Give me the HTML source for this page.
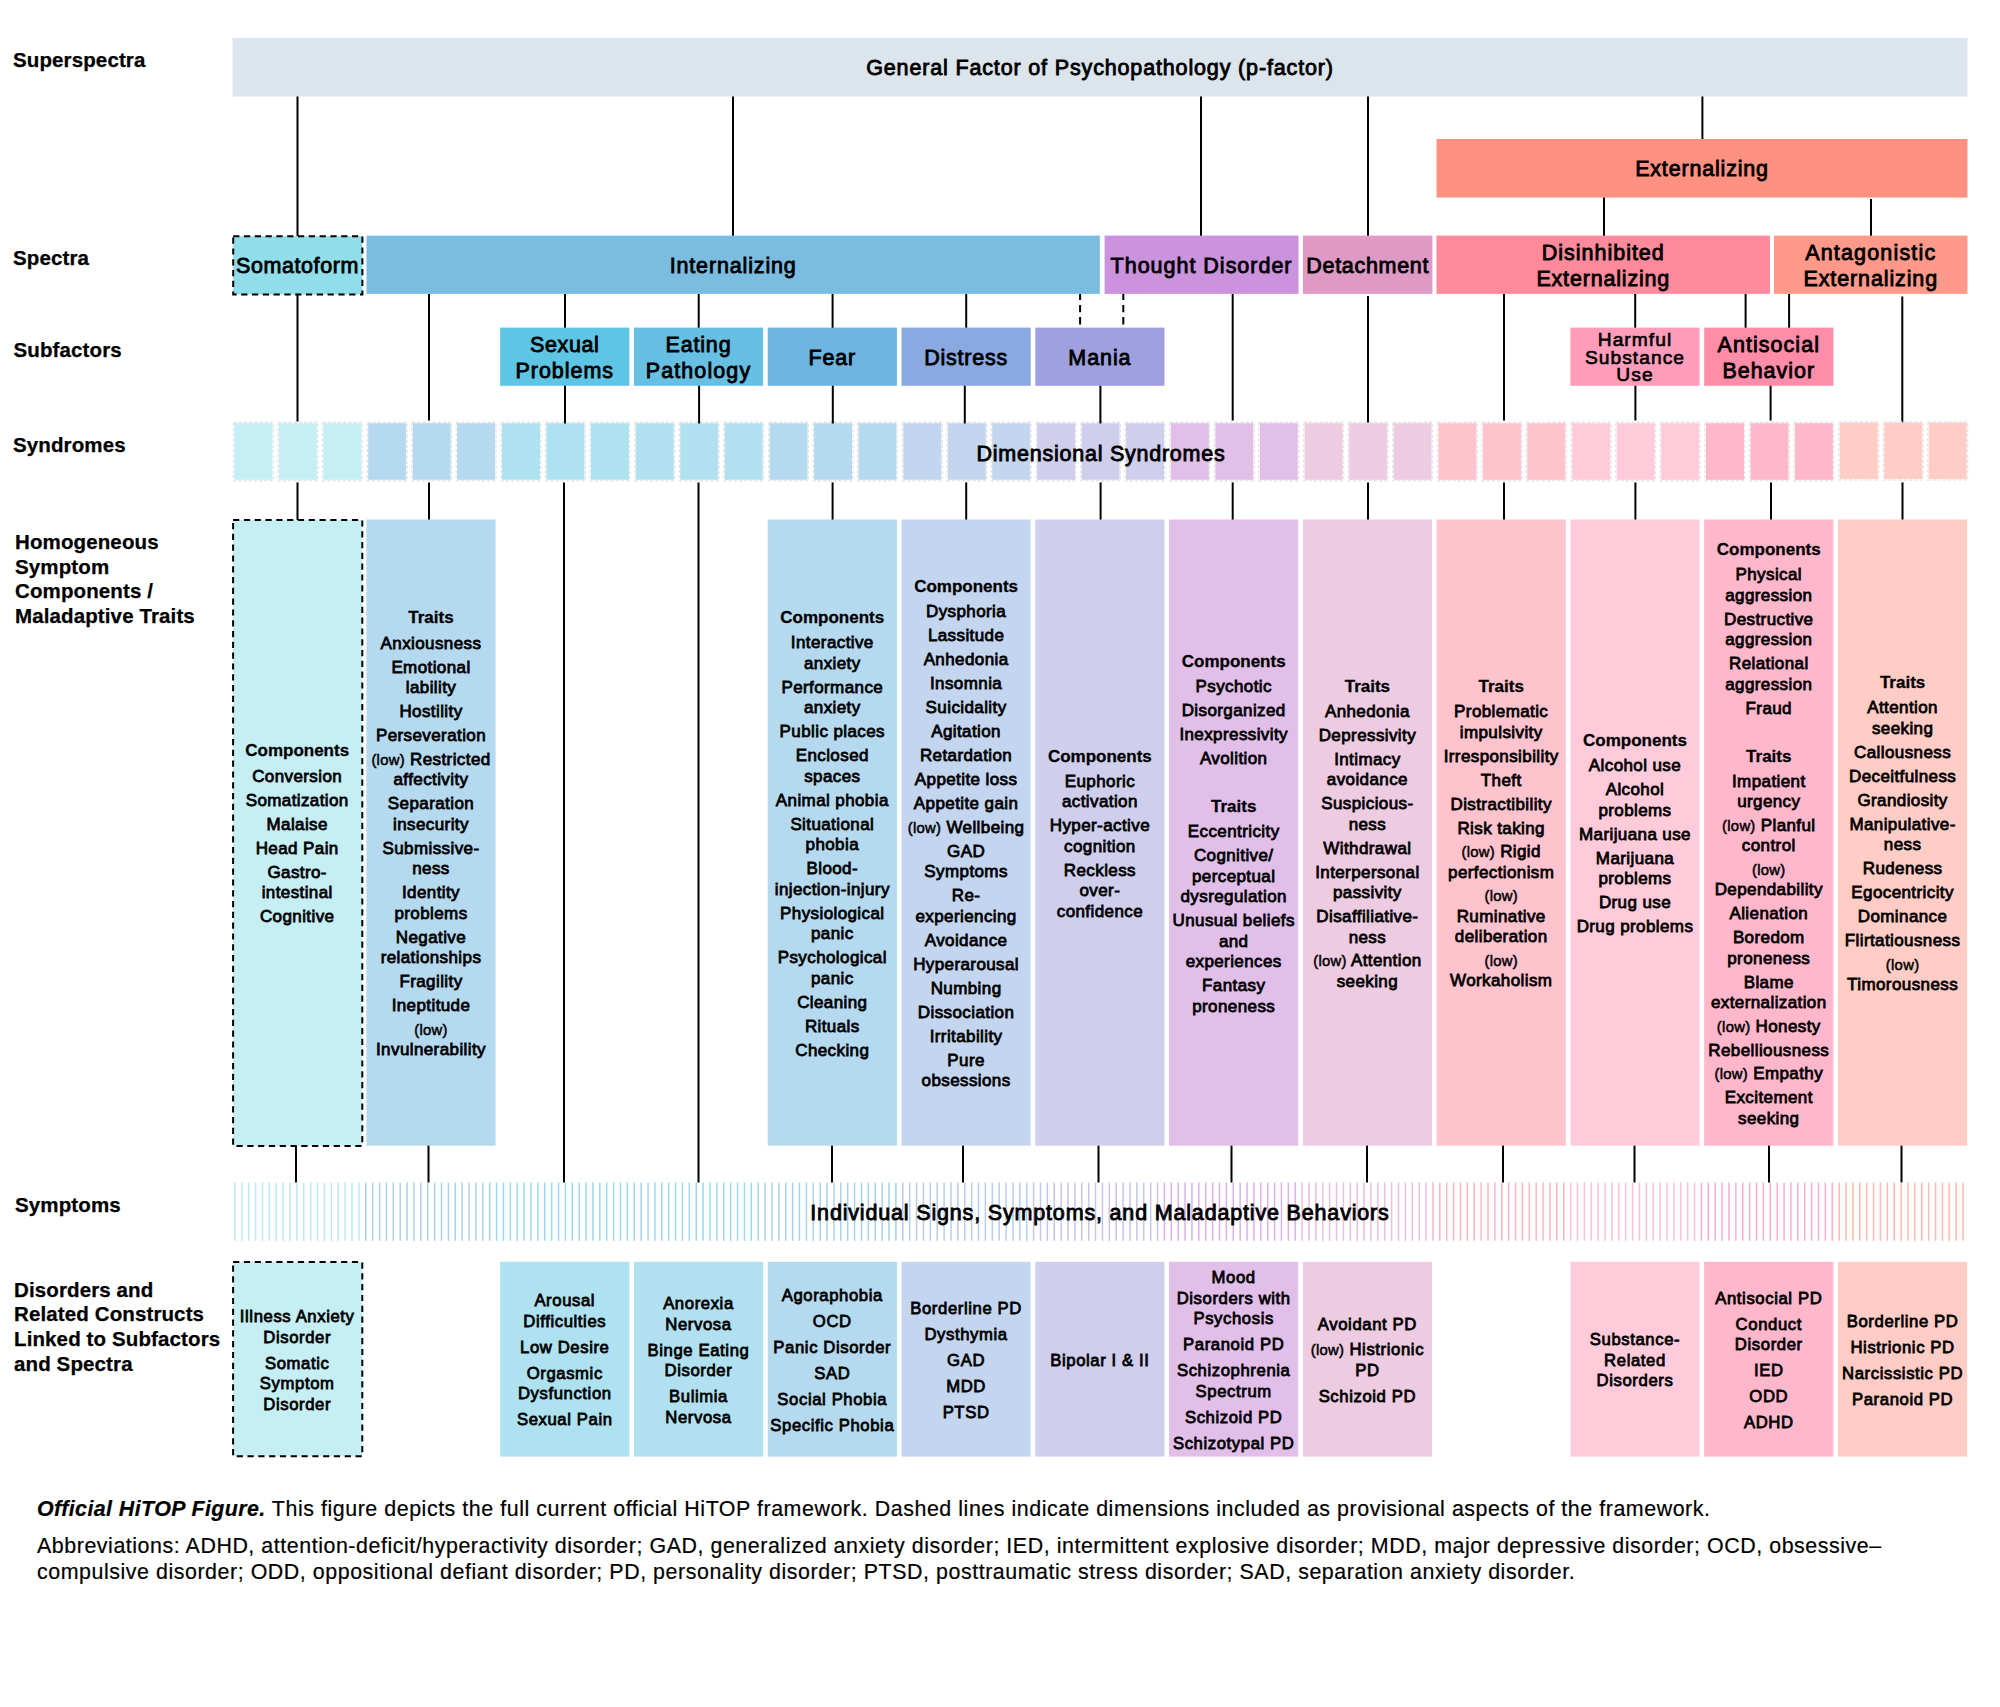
<!DOCTYPE html>
<html lang="en"><head><meta charset="utf-8"><title>Official HiTOP Figure</title>
<style>
html,body{margin:0;padding:0;background:#fff}
body{width:2000px;height:1707px;position:relative;overflow:hidden;font-family:"Liberation Sans",sans-serif;color:#000}
svg{position:absolute;left:0;top:0}
.bx{position:absolute;display:flex;align-items:center;justify-content:center;text-align:center;box-sizing:border-box;white-space:nowrap}
.hd{font-size:21.5px;line-height:26.3px;letter-spacing:.8px;-webkit-text-stroke:.85px #000}
.hs{font-size:19.2px;line-height:17.15px;letter-spacing:1.05px;-webkit-text-stroke:.65px #000}
.it{font-size:17px;line-height:20.57px;letter-spacing:.4px;-webkit-text-stroke:.78px #000}
.it p{margin:0 0 3.43px 0}
.it p:last-child{margin-bottom:0}
.it p.h{margin-bottom:4.63px}
.it p.l{margin-top:-.6px}
.it b{letter-spacing:0;-webkit-text-stroke:.3px #000}
.lo{font-size:14.8px;letter-spacing:.3px;-webkit-text-stroke:.5px #000}
.ds{font-size:16.7px;line-height:20.6px;letter-spacing:.6px}
.ds p{margin:0 0 5.3px 0}
.lb{position:absolute;font-weight:bold;font-size:20.5px;line-height:24.65px;letter-spacing:.12px;-webkit-text-stroke:.25px #000;white-space:nowrap}
.cap{position:absolute;font-size:21.4px;line-height:26.1px;letter-spacing:.55px;white-space:nowrap;-webkit-text-stroke:.2px #000}
.cap p{margin:0}
.cap b{letter-spacing:.42px}
</style></head>
<body>
<svg width="2000" height="1707" viewBox="0 0 2000 1707">
<line x1="297.50" y1="96.00" x2="297.50" y2="236.00" stroke="#000" stroke-width="2"/>
<line x1="733.00" y1="96.00" x2="733.00" y2="236.00" stroke="#000" stroke-width="2"/>
<line x1="1201.00" y1="96.00" x2="1201.00" y2="236.00" stroke="#000" stroke-width="2"/>
<line x1="1368.00" y1="96.00" x2="1368.00" y2="236.00" stroke="#000" stroke-width="2"/>
<line x1="1702.40" y1="96.00" x2="1702.40" y2="140.00" stroke="#000" stroke-width="2"/>
<line x1="1604.00" y1="197.00" x2="1604.00" y2="236.00" stroke="#000" stroke-width="2"/>
<line x1="1871.00" y1="199.00" x2="1871.00" y2="236.00" stroke="#000" stroke-width="2"/>
<line x1="297.50" y1="294.00" x2="297.50" y2="421.60" stroke="#000" stroke-width="2"/>
<line x1="429.00" y1="294.00" x2="429.00" y2="420.40" stroke="#000" stroke-width="2"/>
<line x1="565.00" y1="294.00" x2="565.00" y2="328.00" stroke="#000" stroke-width="2"/>
<line x1="698.70" y1="294.00" x2="698.70" y2="328.00" stroke="#000" stroke-width="2"/>
<line x1="832.60" y1="294.00" x2="832.60" y2="328.00" stroke="#000" stroke-width="2"/>
<line x1="966.20" y1="294.00" x2="966.20" y2="328.00" stroke="#000" stroke-width="2"/>
<line x1="1080.10" y1="294.00" x2="1080.10" y2="325.30" stroke="#000" stroke-width="2" stroke-dasharray="7.3 4.9" stroke-dashoffset="1.3"/>
<line x1="1123.30" y1="294.00" x2="1123.30" y2="325.30" stroke="#000" stroke-width="2" stroke-dasharray="7.3 4.9" stroke-dashoffset="1.3"/>
<line x1="1232.70" y1="294.00" x2="1232.70" y2="420.50" stroke="#000" stroke-width="2"/>
<line x1="1368.00" y1="296.00" x2="1368.00" y2="422.50" stroke="#000" stroke-width="2"/>
<line x1="1504.00" y1="294.00" x2="1504.00" y2="420.50" stroke="#000" stroke-width="2"/>
<line x1="1635.20" y1="294.00" x2="1635.20" y2="328.00" stroke="#000" stroke-width="2"/>
<line x1="1745.60" y1="294.00" x2="1745.60" y2="328.00" stroke="#000" stroke-width="2"/>
<line x1="1789.10" y1="294.00" x2="1789.10" y2="328.00" stroke="#000" stroke-width="2"/>
<line x1="1902.30" y1="296.50" x2="1902.30" y2="422.50" stroke="#000" stroke-width="2"/>
<line x1="565.00" y1="385.00" x2="565.00" y2="422.00" stroke="#000" stroke-width="2"/>
<line x1="699.10" y1="385.00" x2="699.10" y2="422.00" stroke="#000" stroke-width="2"/>
<line x1="832.80" y1="385.00" x2="832.80" y2="422.00" stroke="#000" stroke-width="2"/>
<line x1="964.80" y1="385.00" x2="964.80" y2="422.00" stroke="#000" stroke-width="2"/>
<line x1="1100.40" y1="385.00" x2="1100.40" y2="422.00" stroke="#000" stroke-width="2"/>
<line x1="1635.40" y1="385.00" x2="1635.40" y2="420.50" stroke="#000" stroke-width="2"/>
<line x1="1770.60" y1="385.00" x2="1770.60" y2="420.50" stroke="#000" stroke-width="2"/>
<line x1="297.50" y1="482.40" x2="297.50" y2="520.00" stroke="#000" stroke-width="2"/>
<line x1="429.00" y1="482.40" x2="429.00" y2="520.00" stroke="#000" stroke-width="2"/>
<line x1="832.60" y1="482.40" x2="832.60" y2="520.00" stroke="#000" stroke-width="2"/>
<line x1="966.20" y1="482.40" x2="966.20" y2="520.00" stroke="#000" stroke-width="2"/>
<line x1="1100.60" y1="482.40" x2="1100.60" y2="520.00" stroke="#000" stroke-width="2"/>
<line x1="1232.70" y1="482.40" x2="1232.70" y2="520.00" stroke="#000" stroke-width="2"/>
<line x1="1368.00" y1="482.40" x2="1368.00" y2="520.00" stroke="#000" stroke-width="2"/>
<line x1="1504.00" y1="482.40" x2="1504.00" y2="520.00" stroke="#000" stroke-width="2"/>
<line x1="1635.40" y1="482.40" x2="1635.40" y2="520.00" stroke="#000" stroke-width="2"/>
<line x1="1771.00" y1="482.40" x2="1771.00" y2="520.00" stroke="#000" stroke-width="2"/>
<line x1="1902.50" y1="482.40" x2="1902.50" y2="520.00" stroke="#000" stroke-width="2"/>
<line x1="564.00" y1="482.40" x2="564.00" y2="1182.50" stroke="#000" stroke-width="2"/>
<line x1="698.50" y1="482.40" x2="698.50" y2="1182.50" stroke="#000" stroke-width="2"/>
<line x1="296.00" y1="1145.00" x2="296.00" y2="1182.50" stroke="#000" stroke-width="2"/>
<line x1="428.50" y1="1145.00" x2="428.50" y2="1182.50" stroke="#000" stroke-width="2"/>
<line x1="832.00" y1="1145.00" x2="832.00" y2="1182.50" stroke="#000" stroke-width="2"/>
<line x1="963.00" y1="1145.00" x2="963.00" y2="1182.50" stroke="#000" stroke-width="2"/>
<line x1="1098.50" y1="1145.00" x2="1098.50" y2="1182.50" stroke="#000" stroke-width="2"/>
<line x1="1231.50" y1="1145.00" x2="1231.50" y2="1182.50" stroke="#000" stroke-width="2"/>
<line x1="1367.00" y1="1145.00" x2="1367.00" y2="1182.50" stroke="#000" stroke-width="2"/>
<line x1="1503.00" y1="1145.00" x2="1503.00" y2="1182.50" stroke="#000" stroke-width="2"/>
<line x1="1634.50" y1="1145.00" x2="1634.50" y2="1182.50" stroke="#000" stroke-width="2"/>
<line x1="1769.00" y1="1145.00" x2="1769.00" y2="1182.50" stroke="#000" stroke-width="2"/>
<line x1="1901.50" y1="1145.00" x2="1901.50" y2="1182.50" stroke="#000" stroke-width="2"/>
<rect x="232.50" y="38.00" width="1735.00" height="58.50" fill="#DCE4EC" />
<rect x="1436.50" y="139.00" width="531.00" height="58.60" fill="#FF9182" />
<rect x="233.20" y="236.20" width="129.20" height="58.20" fill="#8FDEEA" stroke="#000" stroke-width="2" stroke-dasharray="6.2 4.6"/>
<rect x="366.50" y="235.60" width="733.30" height="58.30" fill="#7BBDE1" />
<rect x="1104.60" y="235.60" width="193.90" height="58.30" fill="#CB92DD" />
<rect x="1303.00" y="235.60" width="129.40" height="58.30" fill="#DE9AC5" />
<rect x="1436.50" y="235.60" width="333.50" height="58.30" fill="#FF8A9C" />
<rect x="1774.00" y="235.60" width="193.50" height="58.30" fill="#FF9A8B" />
<rect x="500.16" y="327.60" width="129.20" height="58.20" fill="#5FC5E5" />
<rect x="633.94" y="327.60" width="129.20" height="58.20" fill="#67BFE3" />
<rect x="767.72" y="327.60" width="129.20" height="58.20" fill="#6EB6DF" />
<rect x="901.50" y="327.60" width="129.20" height="58.20" fill="#89A9E0" />
<rect x="1035.28" y="327.60" width="129.20" height="58.20" fill="#A1A0DE" />
<rect x="1570.40" y="327.60" width="129.20" height="58.20" fill="#FF9DBA" />
<rect x="1704.18" y="327.60" width="129.20" height="58.20" fill="#FF8CA8" />
<rect x="234.40" y="423.20" width="38.00" height="56.60" fill="#C5EEF5" />
<rect x="233.50" y="422.30" width="39.80" height="58.40" fill="none" stroke="#E6E6E6" stroke-width="1.4" stroke-dasharray="3.2 2"/>
<rect x="278.90" y="423.20" width="38.00" height="56.60" fill="#C5EEF5" />
<rect x="278.00" y="422.30" width="39.80" height="58.40" fill="none" stroke="#E6E6E6" stroke-width="1.4" stroke-dasharray="3.2 2"/>
<rect x="323.30" y="423.20" width="38.00" height="56.60" fill="#C5EEF5" />
<rect x="322.40" y="422.30" width="39.80" height="58.40" fill="none" stroke="#E6E6E6" stroke-width="1.4" stroke-dasharray="3.2 2"/>
<rect x="368.18" y="423.20" width="38.00" height="56.60" fill="#B5D9EF" />
<rect x="367.28" y="422.30" width="39.80" height="58.40" fill="none" stroke="#E6E6E6" stroke-width="1.4" stroke-dasharray="3.2 2"/>
<rect x="412.68" y="423.20" width="38.00" height="56.60" fill="#B5D9EF" />
<rect x="411.78" y="422.30" width="39.80" height="58.40" fill="none" stroke="#E6E6E6" stroke-width="1.4" stroke-dasharray="3.2 2"/>
<rect x="457.08" y="423.20" width="38.00" height="56.60" fill="#B5D9EF" />
<rect x="456.18" y="422.30" width="39.80" height="58.40" fill="none" stroke="#E6E6E6" stroke-width="1.4" stroke-dasharray="3.2 2"/>
<rect x="501.96" y="423.20" width="38.00" height="56.60" fill="#AEE2F1" />
<rect x="501.06" y="422.30" width="39.80" height="58.40" fill="none" stroke="#E6E6E6" stroke-width="1.4" stroke-dasharray="3.2 2"/>
<rect x="546.46" y="423.20" width="38.00" height="56.60" fill="#AEE2F1" />
<rect x="545.56" y="422.30" width="39.80" height="58.40" fill="none" stroke="#E6E6E6" stroke-width="1.4" stroke-dasharray="3.2 2"/>
<rect x="590.86" y="423.20" width="38.00" height="56.60" fill="#AEE2F1" />
<rect x="589.96" y="422.30" width="39.80" height="58.40" fill="none" stroke="#E6E6E6" stroke-width="1.4" stroke-dasharray="3.2 2"/>
<rect x="635.74" y="423.20" width="38.00" height="56.60" fill="#B1E0F0" />
<rect x="634.84" y="422.30" width="39.80" height="58.40" fill="none" stroke="#E6E6E6" stroke-width="1.4" stroke-dasharray="3.2 2"/>
<rect x="680.24" y="423.20" width="38.00" height="56.60" fill="#B1E0F0" />
<rect x="679.34" y="422.30" width="39.80" height="58.40" fill="none" stroke="#E6E6E6" stroke-width="1.4" stroke-dasharray="3.2 2"/>
<rect x="724.64" y="423.20" width="38.00" height="56.60" fill="#B1E0F0" />
<rect x="723.74" y="422.30" width="39.80" height="58.40" fill="none" stroke="#E6E6E6" stroke-width="1.4" stroke-dasharray="3.2 2"/>
<rect x="769.52" y="423.20" width="38.00" height="56.60" fill="#B5DAEF" />
<rect x="768.62" y="422.30" width="39.80" height="58.40" fill="none" stroke="#E6E6E6" stroke-width="1.4" stroke-dasharray="3.2 2"/>
<rect x="814.02" y="423.20" width="38.00" height="56.60" fill="#B5DAEF" />
<rect x="813.12" y="422.30" width="39.80" height="58.40" fill="none" stroke="#E6E6E6" stroke-width="1.4" stroke-dasharray="3.2 2"/>
<rect x="858.42" y="423.20" width="38.00" height="56.60" fill="#B5DAEF" />
<rect x="857.52" y="422.30" width="39.80" height="58.40" fill="none" stroke="#E6E6E6" stroke-width="1.4" stroke-dasharray="3.2 2"/>
<rect x="903.30" y="423.20" width="38.00" height="56.60" fill="#C3D5EF" />
<rect x="902.40" y="422.30" width="39.80" height="58.40" fill="none" stroke="#E6E6E6" stroke-width="1.4" stroke-dasharray="3.2 2"/>
<rect x="947.80" y="423.20" width="38.00" height="56.60" fill="#C3D5EF" />
<rect x="946.90" y="422.30" width="39.80" height="58.40" fill="none" stroke="#E6E6E6" stroke-width="1.4" stroke-dasharray="3.2 2"/>
<rect x="992.20" y="423.20" width="38.00" height="56.60" fill="#C3D5EF" />
<rect x="991.30" y="422.30" width="39.80" height="58.40" fill="none" stroke="#E6E6E6" stroke-width="1.4" stroke-dasharray="3.2 2"/>
<rect x="1037.08" y="423.20" width="38.00" height="56.60" fill="#CFCFED" />
<rect x="1036.18" y="422.30" width="39.80" height="58.40" fill="none" stroke="#E6E6E6" stroke-width="1.4" stroke-dasharray="3.2 2"/>
<rect x="1081.58" y="423.20" width="38.00" height="56.60" fill="#CFCFED" />
<rect x="1080.68" y="422.30" width="39.80" height="58.40" fill="none" stroke="#E6E6E6" stroke-width="1.4" stroke-dasharray="3.2 2"/>
<rect x="1125.98" y="423.20" width="38.00" height="56.60" fill="#CFCFED" />
<rect x="1125.08" y="422.30" width="39.80" height="58.40" fill="none" stroke="#E6E6E6" stroke-width="1.4" stroke-dasharray="3.2 2"/>
<rect x="1170.86" y="423.20" width="38.00" height="56.60" fill="#E1BFE9" />
<rect x="1169.96" y="422.30" width="39.80" height="58.40" fill="none" stroke="#E6E6E6" stroke-width="1.4" stroke-dasharray="3.2 2"/>
<rect x="1215.36" y="423.20" width="38.00" height="56.60" fill="#E1BFE9" />
<rect x="1214.46" y="422.30" width="39.80" height="58.40" fill="none" stroke="#E6E6E6" stroke-width="1.4" stroke-dasharray="3.2 2"/>
<rect x="1259.76" y="423.20" width="38.00" height="56.60" fill="#E1BFE9" />
<rect x="1258.86" y="422.30" width="39.80" height="58.40" fill="none" stroke="#E6E6E6" stroke-width="1.4" stroke-dasharray="3.2 2"/>
<rect x="1304.64" y="423.20" width="38.00" height="56.60" fill="#EDCBE1" />
<rect x="1303.74" y="422.30" width="39.80" height="58.40" fill="none" stroke="#E6E6E6" stroke-width="1.4" stroke-dasharray="3.2 2"/>
<rect x="1349.14" y="423.20" width="38.00" height="56.60" fill="#EDCBE1" />
<rect x="1348.24" y="422.30" width="39.80" height="58.40" fill="none" stroke="#E6E6E6" stroke-width="1.4" stroke-dasharray="3.2 2"/>
<rect x="1393.54" y="423.20" width="38.00" height="56.60" fill="#EDCBE1" />
<rect x="1392.64" y="422.30" width="39.80" height="58.40" fill="none" stroke="#E6E6E6" stroke-width="1.4" stroke-dasharray="3.2 2"/>
<rect x="1438.42" y="423.20" width="38.00" height="56.60" fill="#FFC3CE" />
<rect x="1437.52" y="422.30" width="39.80" height="58.40" fill="none" stroke="#E6E6E6" stroke-width="1.4" stroke-dasharray="3.2 2"/>
<rect x="1482.92" y="423.20" width="38.00" height="56.60" fill="#FFC3CE" />
<rect x="1482.02" y="422.30" width="39.80" height="58.40" fill="none" stroke="#E6E6E6" stroke-width="1.4" stroke-dasharray="3.2 2"/>
<rect x="1527.32" y="423.20" width="38.00" height="56.60" fill="#FFC3CE" />
<rect x="1526.42" y="422.30" width="39.80" height="58.40" fill="none" stroke="#E6E6E6" stroke-width="1.4" stroke-dasharray="3.2 2"/>
<rect x="1572.20" y="423.20" width="38.00" height="56.60" fill="#FFCBDA" />
<rect x="1571.30" y="422.30" width="39.80" height="58.40" fill="none" stroke="#E6E6E6" stroke-width="1.4" stroke-dasharray="3.2 2"/>
<rect x="1616.70" y="423.20" width="38.00" height="56.60" fill="#FFCBDA" />
<rect x="1615.80" y="422.30" width="39.80" height="58.40" fill="none" stroke="#E6E6E6" stroke-width="1.4" stroke-dasharray="3.2 2"/>
<rect x="1661.10" y="423.20" width="38.00" height="56.60" fill="#FFCBDA" />
<rect x="1660.20" y="422.30" width="39.80" height="58.40" fill="none" stroke="#E6E6E6" stroke-width="1.4" stroke-dasharray="3.2 2"/>
<rect x="1705.98" y="423.20" width="38.00" height="56.60" fill="#FFB7CC" />
<rect x="1705.08" y="422.30" width="39.80" height="58.40" fill="none" stroke="#E6E6E6" stroke-width="1.4" stroke-dasharray="3.2 2"/>
<rect x="1750.48" y="423.20" width="38.00" height="56.60" fill="#FFB7CC" />
<rect x="1749.58" y="422.30" width="39.80" height="58.40" fill="none" stroke="#E6E6E6" stroke-width="1.4" stroke-dasharray="3.2 2"/>
<rect x="1794.88" y="423.20" width="38.00" height="56.60" fill="#FFB7CC" />
<rect x="1793.98" y="422.30" width="39.80" height="58.40" fill="none" stroke="#E6E6E6" stroke-width="1.4" stroke-dasharray="3.2 2"/>
<rect x="1839.76" y="422.50" width="38.00" height="56.60" fill="#FFCDC5" />
<rect x="1838.86" y="421.60" width="39.80" height="58.40" fill="none" stroke="#E6E6E6" stroke-width="1.4" stroke-dasharray="3.2 2"/>
<rect x="1884.26" y="422.50" width="38.00" height="56.60" fill="#FFCDC5" />
<rect x="1883.36" y="421.60" width="39.80" height="58.40" fill="none" stroke="#E6E6E6" stroke-width="1.4" stroke-dasharray="3.2 2"/>
<rect x="1928.66" y="422.50" width="38.00" height="56.60" fill="#FFCDC5" />
<rect x="1927.76" y="421.60" width="39.80" height="58.40" fill="none" stroke="#E6E6E6" stroke-width="1.4" stroke-dasharray="3.2 2"/>
<line x1="565.00" y1="421.00" x2="565.00" y2="423.50" stroke="#000" stroke-width="2"/>
<line x1="699.10" y1="421.00" x2="699.10" y2="423.50" stroke="#000" stroke-width="2"/>
<line x1="832.80" y1="421.00" x2="832.80" y2="423.50" stroke="#000" stroke-width="2"/>
<line x1="964.80" y1="421.00" x2="964.80" y2="423.50" stroke="#000" stroke-width="2"/>
<line x1="1100.40" y1="421.00" x2="1100.40" y2="423.50" stroke="#000" stroke-width="2"/>
<rect x="233.10" y="520.00" width="129.20" height="626.00" fill="#C5EEF5" stroke="#000" stroke-width="2" stroke-dasharray="6.2 4.6"/>
<rect x="366.38" y="519.50" width="129.20" height="626.20" fill="#B5D9EF" />
<rect x="767.72" y="519.50" width="129.20" height="626.20" fill="#B5DAEF" />
<rect x="901.50" y="519.50" width="129.20" height="626.20" fill="#C3D5EF" />
<rect x="1035.28" y="519.50" width="129.20" height="626.20" fill="#CFCFED" />
<rect x="1169.06" y="519.50" width="129.20" height="626.20" fill="#E1BFE9" />
<rect x="1302.84" y="519.50" width="129.20" height="626.20" fill="#EDCBE1" />
<rect x="1436.62" y="519.50" width="129.20" height="626.20" fill="#FFC3CE" />
<rect x="1570.40" y="519.50" width="129.20" height="626.20" fill="#FFCBDA" />
<rect x="1704.18" y="519.50" width="129.20" height="626.20" fill="#FFB7CC" />
<rect x="1837.96" y="519.50" width="129.20" height="626.20" fill="#FFCDC5" />
<rect x="234.20" y="1182.5" width="1.5" height="58.3" fill="#BAE8F3"/>
<rect x="241.08" y="1182.5" width="1.5" height="58.3" fill="#BAE8F3"/>
<rect x="247.97" y="1182.5" width="1.5" height="58.3" fill="#BAE8F3"/>
<rect x="254.85" y="1182.5" width="1.5" height="58.3" fill="#BAE8F3"/>
<rect x="261.74" y="1182.5" width="1.5" height="58.3" fill="#BAE8F3"/>
<rect x="268.62" y="1182.5" width="1.5" height="58.3" fill="#BAE8F3"/>
<rect x="275.51" y="1182.5" width="1.5" height="58.3" fill="#BAE8F3"/>
<rect x="282.39" y="1182.5" width="1.5" height="58.3" fill="#BAE8F3"/>
<rect x="289.28" y="1182.5" width="1.5" height="58.3" fill="#BAE8F3"/>
<rect x="296.16" y="1182.5" width="1.5" height="58.3" fill="#BAE8F3"/>
<rect x="303.05" y="1182.5" width="1.5" height="58.3" fill="#BAE8F3"/>
<rect x="309.93" y="1182.5" width="1.5" height="58.3" fill="#BAE8F3"/>
<rect x="316.82" y="1182.5" width="1.5" height="58.3" fill="#BAE8F3"/>
<rect x="323.70" y="1182.5" width="1.5" height="58.3" fill="#BAE8F3"/>
<rect x="330.59" y="1182.5" width="1.5" height="58.3" fill="#BAE8F3"/>
<rect x="337.47" y="1182.5" width="1.5" height="58.3" fill="#BAE8F3"/>
<rect x="344.36" y="1182.5" width="1.5" height="58.3" fill="#BAE8F3"/>
<rect x="351.24" y="1182.5" width="1.5" height="58.3" fill="#BAE8F3"/>
<rect x="358.13" y="1182.5" width="1.5" height="58.3" fill="#BAE8F3"/>
<rect x="365.01" y="1182.5" width="1.5" height="58.3" fill="#A8D2EC"/>
<rect x="371.90" y="1182.5" width="1.5" height="58.3" fill="#A8D2EC"/>
<rect x="378.78" y="1182.5" width="1.5" height="58.3" fill="#A8D2EC"/>
<rect x="385.67" y="1182.5" width="1.5" height="58.3" fill="#A8D2EC"/>
<rect x="392.55" y="1182.5" width="1.5" height="58.3" fill="#A8D2EC"/>
<rect x="399.44" y="1182.5" width="1.5" height="58.3" fill="#A8D2EC"/>
<rect x="406.32" y="1182.5" width="1.5" height="58.3" fill="#A8D2EC"/>
<rect x="413.21" y="1182.5" width="1.5" height="58.3" fill="#A8D2EC"/>
<rect x="420.09" y="1182.5" width="1.5" height="58.3" fill="#A8D2EC"/>
<rect x="426.98" y="1182.5" width="1.5" height="58.3" fill="#A8D2EC"/>
<rect x="433.86" y="1182.5" width="1.5" height="58.3" fill="#A8D2EC"/>
<rect x="440.75" y="1182.5" width="1.5" height="58.3" fill="#A8D2EC"/>
<rect x="447.63" y="1182.5" width="1.5" height="58.3" fill="#A8D2EC"/>
<rect x="454.52" y="1182.5" width="1.5" height="58.3" fill="#A8D2EC"/>
<rect x="461.40" y="1182.5" width="1.5" height="58.3" fill="#A8D2EC"/>
<rect x="468.29" y="1182.5" width="1.5" height="58.3" fill="#A8D2EC"/>
<rect x="475.17" y="1182.5" width="1.5" height="58.3" fill="#A8D2EC"/>
<rect x="482.06" y="1182.5" width="1.5" height="58.3" fill="#A8D2EC"/>
<rect x="488.94" y="1182.5" width="1.5" height="58.3" fill="#A8D2EC"/>
<rect x="495.83" y="1182.5" width="1.5" height="58.3" fill="#9ADAEE"/>
<rect x="502.71" y="1182.5" width="1.5" height="58.3" fill="#9ADAEE"/>
<rect x="509.60" y="1182.5" width="1.5" height="58.3" fill="#9ADAEE"/>
<rect x="516.48" y="1182.5" width="1.5" height="58.3" fill="#9ADAEE"/>
<rect x="523.37" y="1182.5" width="1.5" height="58.3" fill="#9ADAEE"/>
<rect x="530.25" y="1182.5" width="1.5" height="58.3" fill="#9ADAEE"/>
<rect x="537.14" y="1182.5" width="1.5" height="58.3" fill="#9ADAEE"/>
<rect x="544.02" y="1182.5" width="1.5" height="58.3" fill="#9ADAEE"/>
<rect x="550.91" y="1182.5" width="1.5" height="58.3" fill="#9ADAEE"/>
<rect x="557.79" y="1182.5" width="1.5" height="58.3" fill="#9ADAEE"/>
<rect x="564.68" y="1182.5" width="1.5" height="58.3" fill="#9ADAEE"/>
<rect x="571.56" y="1182.5" width="1.5" height="58.3" fill="#9ADAEE"/>
<rect x="578.45" y="1182.5" width="1.5" height="58.3" fill="#9ADAEE"/>
<rect x="585.33" y="1182.5" width="1.5" height="58.3" fill="#9ADAEE"/>
<rect x="592.22" y="1182.5" width="1.5" height="58.3" fill="#9ADAEE"/>
<rect x="599.10" y="1182.5" width="1.5" height="58.3" fill="#9ADAEE"/>
<rect x="605.99" y="1182.5" width="1.5" height="58.3" fill="#9ADAEE"/>
<rect x="612.87" y="1182.5" width="1.5" height="58.3" fill="#9ADAEE"/>
<rect x="619.76" y="1182.5" width="1.5" height="58.3" fill="#9ADAEE"/>
<rect x="626.64" y="1182.5" width="1.5" height="58.3" fill="#9ADAEE"/>
<rect x="633.53" y="1182.5" width="1.5" height="58.3" fill="#9ED8ED"/>
<rect x="640.41" y="1182.5" width="1.5" height="58.3" fill="#9ED8ED"/>
<rect x="647.30" y="1182.5" width="1.5" height="58.3" fill="#9ED8ED"/>
<rect x="654.18" y="1182.5" width="1.5" height="58.3" fill="#9ED8ED"/>
<rect x="661.07" y="1182.5" width="1.5" height="58.3" fill="#9ED8ED"/>
<rect x="667.95" y="1182.5" width="1.5" height="58.3" fill="#9ED8ED"/>
<rect x="674.83" y="1182.5" width="1.5" height="58.3" fill="#9ED8ED"/>
<rect x="681.72" y="1182.5" width="1.5" height="58.3" fill="#9ED8ED"/>
<rect x="688.60" y="1182.5" width="1.5" height="58.3" fill="#9ED8ED"/>
<rect x="695.49" y="1182.5" width="1.5" height="58.3" fill="#9ED8ED"/>
<rect x="702.37" y="1182.5" width="1.5" height="58.3" fill="#9ED8ED"/>
<rect x="709.26" y="1182.5" width="1.5" height="58.3" fill="#9ED8ED"/>
<rect x="716.14" y="1182.5" width="1.5" height="58.3" fill="#9ED8ED"/>
<rect x="723.03" y="1182.5" width="1.5" height="58.3" fill="#9ED8ED"/>
<rect x="729.91" y="1182.5" width="1.5" height="58.3" fill="#9ED8ED"/>
<rect x="736.80" y="1182.5" width="1.5" height="58.3" fill="#9ED8ED"/>
<rect x="743.68" y="1182.5" width="1.5" height="58.3" fill="#9ED8ED"/>
<rect x="750.57" y="1182.5" width="1.5" height="58.3" fill="#9ED8ED"/>
<rect x="757.45" y="1182.5" width="1.5" height="58.3" fill="#9ED8ED"/>
<rect x="764.34" y="1182.5" width="1.5" height="58.3" fill="#A6D2EC"/>
<rect x="771.22" y="1182.5" width="1.5" height="58.3" fill="#A6D2EC"/>
<rect x="778.11" y="1182.5" width="1.5" height="58.3" fill="#A6D2EC"/>
<rect x="784.99" y="1182.5" width="1.5" height="58.3" fill="#A6D2EC"/>
<rect x="791.88" y="1182.5" width="1.5" height="58.3" fill="#A6D2EC"/>
<rect x="798.76" y="1182.5" width="1.5" height="58.3" fill="#A6D2EC"/>
<rect x="805.65" y="1182.5" width="1.5" height="58.3" fill="#A6D2EC"/>
<rect x="812.53" y="1182.5" width="1.5" height="58.3" fill="#A6D2EC"/>
<rect x="819.42" y="1182.5" width="1.5" height="58.3" fill="#A6D2EC"/>
<rect x="826.30" y="1182.5" width="1.5" height="58.3" fill="#A6D2EC"/>
<rect x="833.19" y="1182.5" width="1.5" height="58.3" fill="#A6D2EC"/>
<rect x="840.07" y="1182.5" width="1.5" height="58.3" fill="#A6D2EC"/>
<rect x="846.96" y="1182.5" width="1.5" height="58.3" fill="#A6D2EC"/>
<rect x="853.84" y="1182.5" width="1.5" height="58.3" fill="#A6D2EC"/>
<rect x="860.73" y="1182.5" width="1.5" height="58.3" fill="#A6D2EC"/>
<rect x="867.61" y="1182.5" width="1.5" height="58.3" fill="#A6D2EC"/>
<rect x="874.50" y="1182.5" width="1.5" height="58.3" fill="#A6D2EC"/>
<rect x="881.38" y="1182.5" width="1.5" height="58.3" fill="#A6D2EC"/>
<rect x="888.27" y="1182.5" width="1.5" height="58.3" fill="#A6D2EC"/>
<rect x="895.15" y="1182.5" width="1.5" height="58.3" fill="#A6D2EC"/>
<rect x="902.04" y="1182.5" width="1.5" height="58.3" fill="#B7CEEC"/>
<rect x="908.92" y="1182.5" width="1.5" height="58.3" fill="#B7CEEC"/>
<rect x="915.81" y="1182.5" width="1.5" height="58.3" fill="#B7CEEC"/>
<rect x="922.69" y="1182.5" width="1.5" height="58.3" fill="#B7CEEC"/>
<rect x="929.58" y="1182.5" width="1.5" height="58.3" fill="#B7CEEC"/>
<rect x="936.46" y="1182.5" width="1.5" height="58.3" fill="#B7CEEC"/>
<rect x="943.35" y="1182.5" width="1.5" height="58.3" fill="#B7CEEC"/>
<rect x="950.23" y="1182.5" width="1.5" height="58.3" fill="#B7CEEC"/>
<rect x="957.12" y="1182.5" width="1.5" height="58.3" fill="#B7CEEC"/>
<rect x="964.00" y="1182.5" width="1.5" height="58.3" fill="#B7CEEC"/>
<rect x="970.89" y="1182.5" width="1.5" height="58.3" fill="#B7CEEC"/>
<rect x="977.77" y="1182.5" width="1.5" height="58.3" fill="#B7CEEC"/>
<rect x="984.66" y="1182.5" width="1.5" height="58.3" fill="#B7CEEC"/>
<rect x="991.54" y="1182.5" width="1.5" height="58.3" fill="#B7CEEC"/>
<rect x="998.43" y="1182.5" width="1.5" height="58.3" fill="#B7CEEC"/>
<rect x="1005.31" y="1182.5" width="1.5" height="58.3" fill="#B7CEEC"/>
<rect x="1012.20" y="1182.5" width="1.5" height="58.3" fill="#B7CEEC"/>
<rect x="1019.08" y="1182.5" width="1.5" height="58.3" fill="#B7CEEC"/>
<rect x="1025.97" y="1182.5" width="1.5" height="58.3" fill="#B7CEEC"/>
<rect x="1032.85" y="1182.5" width="1.5" height="58.3" fill="#C5C5EA"/>
<rect x="1039.74" y="1182.5" width="1.5" height="58.3" fill="#C5C5EA"/>
<rect x="1046.62" y="1182.5" width="1.5" height="58.3" fill="#C5C5EA"/>
<rect x="1053.51" y="1182.5" width="1.5" height="58.3" fill="#C5C5EA"/>
<rect x="1060.39" y="1182.5" width="1.5" height="58.3" fill="#C5C5EA"/>
<rect x="1067.28" y="1182.5" width="1.5" height="58.3" fill="#C5C5EA"/>
<rect x="1074.16" y="1182.5" width="1.5" height="58.3" fill="#C5C5EA"/>
<rect x="1081.05" y="1182.5" width="1.5" height="58.3" fill="#C5C5EA"/>
<rect x="1087.93" y="1182.5" width="1.5" height="58.3" fill="#C5C5EA"/>
<rect x="1094.82" y="1182.5" width="1.5" height="58.3" fill="#C5C5EA"/>
<rect x="1101.70" y="1182.5" width="1.5" height="58.3" fill="#C5C5EA"/>
<rect x="1108.58" y="1182.5" width="1.5" height="58.3" fill="#C5C5EA"/>
<rect x="1115.47" y="1182.5" width="1.5" height="58.3" fill="#C5C5EA"/>
<rect x="1122.35" y="1182.5" width="1.5" height="58.3" fill="#C5C5EA"/>
<rect x="1129.24" y="1182.5" width="1.5" height="58.3" fill="#C5C5EA"/>
<rect x="1136.12" y="1182.5" width="1.5" height="58.3" fill="#C5C5EA"/>
<rect x="1143.01" y="1182.5" width="1.5" height="58.3" fill="#C5C5EA"/>
<rect x="1149.89" y="1182.5" width="1.5" height="58.3" fill="#C5C5EA"/>
<rect x="1156.78" y="1182.5" width="1.5" height="58.3" fill="#C5C5EA"/>
<rect x="1163.66" y="1182.5" width="1.5" height="58.3" fill="#DAB3E4"/>
<rect x="1170.55" y="1182.5" width="1.5" height="58.3" fill="#DAB3E4"/>
<rect x="1177.43" y="1182.5" width="1.5" height="58.3" fill="#DAB3E4"/>
<rect x="1184.32" y="1182.5" width="1.5" height="58.3" fill="#DAB3E4"/>
<rect x="1191.20" y="1182.5" width="1.5" height="58.3" fill="#DAB3E4"/>
<rect x="1198.09" y="1182.5" width="1.5" height="58.3" fill="#DAB3E4"/>
<rect x="1204.97" y="1182.5" width="1.5" height="58.3" fill="#DAB3E4"/>
<rect x="1211.86" y="1182.5" width="1.5" height="58.3" fill="#DAB3E4"/>
<rect x="1218.74" y="1182.5" width="1.5" height="58.3" fill="#DAB3E4"/>
<rect x="1225.63" y="1182.5" width="1.5" height="58.3" fill="#DAB3E4"/>
<rect x="1232.51" y="1182.5" width="1.5" height="58.3" fill="#DAB3E4"/>
<rect x="1239.40" y="1182.5" width="1.5" height="58.3" fill="#DAB3E4"/>
<rect x="1246.28" y="1182.5" width="1.5" height="58.3" fill="#DAB3E4"/>
<rect x="1253.17" y="1182.5" width="1.5" height="58.3" fill="#DAB3E4"/>
<rect x="1260.05" y="1182.5" width="1.5" height="58.3" fill="#DAB3E4"/>
<rect x="1266.94" y="1182.5" width="1.5" height="58.3" fill="#DAB3E4"/>
<rect x="1273.82" y="1182.5" width="1.5" height="58.3" fill="#DAB3E4"/>
<rect x="1280.71" y="1182.5" width="1.5" height="58.3" fill="#DAB3E4"/>
<rect x="1287.59" y="1182.5" width="1.5" height="58.3" fill="#DAB3E4"/>
<rect x="1294.48" y="1182.5" width="1.5" height="58.3" fill="#DAB3E4"/>
<rect x="1301.36" y="1182.5" width="1.5" height="58.3" fill="#E8C0DA"/>
<rect x="1308.25" y="1182.5" width="1.5" height="58.3" fill="#E8C0DA"/>
<rect x="1315.13" y="1182.5" width="1.5" height="58.3" fill="#E8C0DA"/>
<rect x="1322.02" y="1182.5" width="1.5" height="58.3" fill="#E8C0DA"/>
<rect x="1328.90" y="1182.5" width="1.5" height="58.3" fill="#E8C0DA"/>
<rect x="1335.79" y="1182.5" width="1.5" height="58.3" fill="#E8C0DA"/>
<rect x="1342.67" y="1182.5" width="1.5" height="58.3" fill="#E8C0DA"/>
<rect x="1349.56" y="1182.5" width="1.5" height="58.3" fill="#E8C0DA"/>
<rect x="1356.44" y="1182.5" width="1.5" height="58.3" fill="#E8C0DA"/>
<rect x="1363.33" y="1182.5" width="1.5" height="58.3" fill="#E8C0DA"/>
<rect x="1370.21" y="1182.5" width="1.5" height="58.3" fill="#E8C0DA"/>
<rect x="1377.10" y="1182.5" width="1.5" height="58.3" fill="#E8C0DA"/>
<rect x="1383.98" y="1182.5" width="1.5" height="58.3" fill="#E8C0DA"/>
<rect x="1390.87" y="1182.5" width="1.5" height="58.3" fill="#E8C0DA"/>
<rect x="1397.75" y="1182.5" width="1.5" height="58.3" fill="#E8C0DA"/>
<rect x="1404.64" y="1182.5" width="1.5" height="58.3" fill="#E8C0DA"/>
<rect x="1411.52" y="1182.5" width="1.5" height="58.3" fill="#E8C0DA"/>
<rect x="1418.41" y="1182.5" width="1.5" height="58.3" fill="#E8C0DA"/>
<rect x="1425.29" y="1182.5" width="1.5" height="58.3" fill="#E8C0DA"/>
<rect x="1432.18" y="1182.5" width="1.5" height="58.3" fill="#FFB5C3"/>
<rect x="1439.06" y="1182.5" width="1.5" height="58.3" fill="#FFB5C3"/>
<rect x="1445.95" y="1182.5" width="1.5" height="58.3" fill="#FFB5C3"/>
<rect x="1452.83" y="1182.5" width="1.5" height="58.3" fill="#FFB5C3"/>
<rect x="1459.72" y="1182.5" width="1.5" height="58.3" fill="#FFB5C3"/>
<rect x="1466.60" y="1182.5" width="1.5" height="58.3" fill="#FFB5C3"/>
<rect x="1473.49" y="1182.5" width="1.5" height="58.3" fill="#FFB5C3"/>
<rect x="1480.37" y="1182.5" width="1.5" height="58.3" fill="#FFB5C3"/>
<rect x="1487.26" y="1182.5" width="1.5" height="58.3" fill="#FFB5C3"/>
<rect x="1494.14" y="1182.5" width="1.5" height="58.3" fill="#FFB5C3"/>
<rect x="1501.03" y="1182.5" width="1.5" height="58.3" fill="#FFB5C3"/>
<rect x="1507.91" y="1182.5" width="1.5" height="58.3" fill="#FFB5C3"/>
<rect x="1514.80" y="1182.5" width="1.5" height="58.3" fill="#FFB5C3"/>
<rect x="1521.68" y="1182.5" width="1.5" height="58.3" fill="#FFB5C3"/>
<rect x="1528.57" y="1182.5" width="1.5" height="58.3" fill="#FFB5C3"/>
<rect x="1535.45" y="1182.5" width="1.5" height="58.3" fill="#FFB5C3"/>
<rect x="1542.33" y="1182.5" width="1.5" height="58.3" fill="#FFB5C3"/>
<rect x="1549.22" y="1182.5" width="1.5" height="58.3" fill="#FFB5C3"/>
<rect x="1556.10" y="1182.5" width="1.5" height="58.3" fill="#FFB5C3"/>
<rect x="1562.99" y="1182.5" width="1.5" height="58.3" fill="#FFB5C3"/>
<rect x="1569.87" y="1182.5" width="1.5" height="58.3" fill="#FFC0D2"/>
<rect x="1576.76" y="1182.5" width="1.5" height="58.3" fill="#FFC0D2"/>
<rect x="1583.64" y="1182.5" width="1.5" height="58.3" fill="#FFC0D2"/>
<rect x="1590.53" y="1182.5" width="1.5" height="58.3" fill="#FFC0D2"/>
<rect x="1597.41" y="1182.5" width="1.5" height="58.3" fill="#FFC0D2"/>
<rect x="1604.30" y="1182.5" width="1.5" height="58.3" fill="#FFC0D2"/>
<rect x="1611.18" y="1182.5" width="1.5" height="58.3" fill="#FFC0D2"/>
<rect x="1618.07" y="1182.5" width="1.5" height="58.3" fill="#FFC0D2"/>
<rect x="1624.95" y="1182.5" width="1.5" height="58.3" fill="#FFC0D2"/>
<rect x="1631.84" y="1182.5" width="1.5" height="58.3" fill="#FFC0D2"/>
<rect x="1638.72" y="1182.5" width="1.5" height="58.3" fill="#FFC0D2"/>
<rect x="1645.61" y="1182.5" width="1.5" height="58.3" fill="#FFC0D2"/>
<rect x="1652.49" y="1182.5" width="1.5" height="58.3" fill="#FFC0D2"/>
<rect x="1659.38" y="1182.5" width="1.5" height="58.3" fill="#FFC0D2"/>
<rect x="1666.26" y="1182.5" width="1.5" height="58.3" fill="#FFC0D2"/>
<rect x="1673.15" y="1182.5" width="1.5" height="58.3" fill="#FFC0D2"/>
<rect x="1680.03" y="1182.5" width="1.5" height="58.3" fill="#FFC0D2"/>
<rect x="1686.92" y="1182.5" width="1.5" height="58.3" fill="#FFC0D2"/>
<rect x="1693.80" y="1182.5" width="1.5" height="58.3" fill="#FFC0D2"/>
<rect x="1700.69" y="1182.5" width="1.5" height="58.3" fill="#FFADC5"/>
<rect x="1707.57" y="1182.5" width="1.5" height="58.3" fill="#FFADC5"/>
<rect x="1714.46" y="1182.5" width="1.5" height="58.3" fill="#FFADC5"/>
<rect x="1721.34" y="1182.5" width="1.5" height="58.3" fill="#FFADC5"/>
<rect x="1728.23" y="1182.5" width="1.5" height="58.3" fill="#FFADC5"/>
<rect x="1735.11" y="1182.5" width="1.5" height="58.3" fill="#FFADC5"/>
<rect x="1742.00" y="1182.5" width="1.5" height="58.3" fill="#FFADC5"/>
<rect x="1748.88" y="1182.5" width="1.5" height="58.3" fill="#FFADC5"/>
<rect x="1755.77" y="1182.5" width="1.5" height="58.3" fill="#FFADC5"/>
<rect x="1762.65" y="1182.5" width="1.5" height="58.3" fill="#FFADC5"/>
<rect x="1769.54" y="1182.5" width="1.5" height="58.3" fill="#FFADC5"/>
<rect x="1776.42" y="1182.5" width="1.5" height="58.3" fill="#FFADC5"/>
<rect x="1783.31" y="1182.5" width="1.5" height="58.3" fill="#FFADC5"/>
<rect x="1790.19" y="1182.5" width="1.5" height="58.3" fill="#FFADC5"/>
<rect x="1797.08" y="1182.5" width="1.5" height="58.3" fill="#FFADC5"/>
<rect x="1803.96" y="1182.5" width="1.5" height="58.3" fill="#FFADC5"/>
<rect x="1810.85" y="1182.5" width="1.5" height="58.3" fill="#FFADC5"/>
<rect x="1817.73" y="1182.5" width="1.5" height="58.3" fill="#FFADC5"/>
<rect x="1824.62" y="1182.5" width="1.5" height="58.3" fill="#FFADC5"/>
<rect x="1831.50" y="1182.5" width="1.5" height="58.3" fill="#FFADC5"/>
<rect x="1838.39" y="1182.5" width="1.5" height="58.3" fill="#FFBAAE"/>
<rect x="1845.27" y="1182.5" width="1.5" height="58.3" fill="#FFBAAE"/>
<rect x="1852.16" y="1182.5" width="1.5" height="58.3" fill="#FFBAAE"/>
<rect x="1859.04" y="1182.5" width="1.5" height="58.3" fill="#FFBAAE"/>
<rect x="1865.93" y="1182.5" width="1.5" height="58.3" fill="#FFBAAE"/>
<rect x="1872.81" y="1182.5" width="1.5" height="58.3" fill="#FFBAAE"/>
<rect x="1879.70" y="1182.5" width="1.5" height="58.3" fill="#FFBAAE"/>
<rect x="1886.58" y="1182.5" width="1.5" height="58.3" fill="#FFBAAE"/>
<rect x="1893.47" y="1182.5" width="1.5" height="58.3" fill="#FFBAAE"/>
<rect x="1900.35" y="1182.5" width="1.5" height="58.3" fill="#FFBAAE"/>
<rect x="1907.24" y="1182.5" width="1.5" height="58.3" fill="#FFBAAE"/>
<rect x="1914.12" y="1182.5" width="1.5" height="58.3" fill="#FFBAAE"/>
<rect x="1921.01" y="1182.5" width="1.5" height="58.3" fill="#FFBAAE"/>
<rect x="1927.89" y="1182.5" width="1.5" height="58.3" fill="#FFBAAE"/>
<rect x="1934.78" y="1182.5" width="1.5" height="58.3" fill="#FFBAAE"/>
<rect x="1941.66" y="1182.5" width="1.5" height="58.3" fill="#FFBAAE"/>
<rect x="1948.55" y="1182.5" width="1.5" height="58.3" fill="#FFBAAE"/>
<rect x="1955.43" y="1182.5" width="1.5" height="58.3" fill="#FFBAAE"/>
<rect x="1962.32" y="1182.5" width="1.5" height="58.3" fill="#FFBAAE"/>
<rect x="233.10" y="1262.10" width="129.20" height="194.20" fill="#C5EEF5" stroke="#000" stroke-width="2" stroke-dasharray="6.2 4.6"/>
<rect x="500.16" y="1261.80" width="129.20" height="194.80" fill="#AEE2F1" />
<rect x="633.94" y="1261.80" width="129.20" height="194.80" fill="#B1E0F0" />
<rect x="767.72" y="1261.80" width="129.20" height="194.80" fill="#B5DAEF" />
<rect x="901.50" y="1261.80" width="129.20" height="194.80" fill="#C3D5EF" />
<rect x="1035.28" y="1261.80" width="129.20" height="194.80" fill="#CFCFED" />
<rect x="1169.06" y="1261.80" width="129.20" height="194.80" fill="#E1BFE9" />
<rect x="1302.84" y="1261.80" width="129.20" height="194.80" fill="#EDCBE1" />
<rect x="1570.40" y="1261.80" width="129.20" height="194.80" fill="#FFCBDA" />
<rect x="1704.18" y="1261.80" width="129.20" height="194.80" fill="#FFB7CC" />
<rect x="1837.96" y="1261.80" width="129.20" height="194.80" fill="#FFCDC5" />
</svg>
<div class="bx hd" style="left:232.5px;top:38.0px;width:1735.0px;height:58.5px;padding-top:2.5px"><div><span style="letter-spacing:0.85px">General Factor of Psychopathology (p-factor)</span></div></div>
<div class="bx hd" style="left:1436.5px;top:139.0px;width:531.0px;height:58.6px;padding-top:2.5px"><div><span style="letter-spacing:0.82px">Externalizing</span></div></div>
<div class="bx hd" style="left:232.5px;top:235.6px;width:130.0px;height:58.3px;padding-top:3.2px"><div><span style="letter-spacing:0.58px">Somatoform</span></div></div>
<div class="bx hd" style="left:366.5px;top:235.6px;width:733.3px;height:58.3px;padding-top:3.2px"><div><span style="letter-spacing:0.85px">Internalizing</span></div></div>
<div class="bx hd" style="left:1104.6px;top:235.6px;width:193.9px;height:58.3px;padding-top:3.2px"><div><span style="letter-spacing:0.99px">Thought Disorder</span></div></div>
<div class="bx hd" style="left:1303.0px;top:235.6px;width:129.4px;height:58.3px;padding-top:3.2px"><div><span style="letter-spacing:0.69px">Detachment</span></div></div>
<div class="bx hd" style="left:1436.5px;top:235.6px;width:333.5px;height:58.3px;padding-top:3.2px"><div><span style="letter-spacing:0.99px">Disinhibited</span><br><span style="letter-spacing:0.82px">Externalizing</span></div></div>
<div class="bx hd" style="left:1774.0px;top:235.6px;width:193.5px;height:58.3px;padding-top:3.2px"><div><span style="letter-spacing:1.17px">Antagonistic</span><br><span style="letter-spacing:0.89px">Externalizing</span></div></div>
<div class="bx hd" style="left:500.2px;top:327.6px;width:129.2px;height:58.2px;padding-top:3.2px"><div><span style="letter-spacing:0.62px">Sexual</span><br><span style="letter-spacing:0.97px">Problems</span></div></div>
<div class="bx hd" style="left:633.9px;top:327.6px;width:129.2px;height:58.2px;padding-top:3.2px"><div><span style="letter-spacing:0.83px">Eating</span><br><span style="letter-spacing:1.10px">Pathology</span></div></div>
<div class="bx hd" style="left:767.7px;top:327.6px;width:129.2px;height:58.2px;padding-top:3.2px"><div><span style="letter-spacing:0.81px">Fear</span></div></div>
<div class="bx hd" style="left:901.5px;top:327.6px;width:129.2px;height:58.2px;padding-top:3.2px"><div><span style="letter-spacing:0.76px">Distress</span></div></div>
<div class="bx hd" style="left:1035.3px;top:327.6px;width:129.2px;height:58.2px;padding-top:3.2px"><div><span style="letter-spacing:0.90px">Mania</span></div></div>
<div class="bx hd" style="left:1704.2px;top:327.6px;width:129.2px;height:58.2px;padding-top:3.2px"><div><span style="letter-spacing:1.05px">Antisocial</span><br><span style="letter-spacing:0.99px">Behavior</span></div></div>
<div class="bx hd hs" style="left:1570.4px;top:327.6px;width:129.2px;height:58.2px;padding-top:1px"><div>Harmful<br>Substance<br>Use</div></div>
<div class="bx hd" style="left:232.5px;top:423.0px;width:1735.0px;height:57.5px;padding-top:4.5px;padding-left:2px"><div><span style="letter-spacing:0.76px">Dimensional Syndromes</span></div></div>
<div class="bx hd" style="left:232.5px;top:1182.5px;width:1735.0px;height:58.3px;padding-top:3px"><div><span style="letter-spacing:0.83px">Individual Signs, Symptoms, and Maladaptive Behaviors</span></div></div>
<div class="bx it" style="left:226.6px;top:519.5px;width:141.2px;height:626.2px;padding-top:4px"><div><p class="h"><b>Components</b></p><p>Conversion</p><p>Somatization</p><p>Malaise</p><p>Head Pain</p><p>Gastro-<br>intestinal</p><p>Cognitive</p></div></div>
<div class="bx it" style="left:360.4px;top:519.5px;width:141.2px;height:626.2px;padding-top:4px"><div><p class="h"><b>Traits</b></p><p>Anxiousness</p><p>Emotional<br>lability</p><p>Hostility</p><p>Perseveration</p><p class="l"><span class="lo">(low)</span> Restricted<br>affectivity</p><p>Separation<br>insecurity</p><p>Submissive-<br>ness</p><p>Identity<br>problems</p><p>Negative<br>relationships</p><p>Fragility</p><p>Ineptitude</p><p class="l"><span class="lo">(low)</span><br>Invulnerability</p></div></div>
<div class="bx it" style="left:761.7px;top:519.5px;width:141.2px;height:626.2px;padding-top:4px"><div><p class="h"><b>Components</b></p><p>Interactive<br>anxiety</p><p>Performance<br>anxiety</p><p>Public places</p><p>Enclosed<br>spaces</p><p>Animal phobia</p><p>Situational<br>phobia</p><p>Blood-<br>injection-injury</p><p>Physiological<br>panic</p><p>Psychological<br>panic</p><p>Cleaning</p><p>Rituals</p><p>Checking</p></div></div>
<div class="bx it" style="left:895.5px;top:519.5px;width:141.2px;height:626.2px;padding-top:4px"><div><p class="h"><b>Components</b></p><p>Dysphoria</p><p>Lassitude</p><p>Anhedonia</p><p>Insomnia</p><p>Suicidality</p><p>Agitation</p><p>Retardation</p><p>Appetite loss</p><p>Appetite gain</p><p class="l"><span class="lo">(low)</span> Wellbeing</p><p>GAD<br>Symptoms</p><p>Re-<br>experiencing</p><p>Avoidance</p><p>Hyperarousal</p><p>Numbing</p><p>Dissociation</p><p>Irritability</p><p>Pure<br>obsessions</p></div></div>
<div class="bx it" style="left:1029.3px;top:519.5px;width:141.2px;height:626.2px;padding-top:4px"><div><p class="h"><b>Components</b></p><p>Euphoric<br>activation</p><p>Hyper-active<br>cognition</p><p>Reckless<br>over-<br>confidence</p></div></div>
<div class="bx it" style="left:1163.1px;top:519.5px;width:141.2px;height:626.2px;padding-top:4px"><div><p class="h"><b>Components</b></p><p>Psychotic</p><p>Disorganized</p><p>Inexpressivity</p><p>Avolition</p><p>&nbsp;</p><p class="h"><b>Traits</b></p><p>Eccentricity</p><p>Cognitive/<br>perceptual<br>dysregulation</p><p>Unusual beliefs<br>and<br>experiences</p><p>Fantasy<br>proneness</p></div></div>
<div class="bx it" style="left:1296.8px;top:519.5px;width:141.2px;height:626.2px;padding-top:4px"><div><p class="h"><b>Traits</b></p><p>Anhedonia</p><p>Depressivity</p><p>Intimacy<br>avoidance</p><p>Suspicious-<br>ness</p><p>Withdrawal</p><p>Interpersonal<br>passivity</p><p>Disaffiliative-<br>ness</p><p class="l"><span class="lo">(low)</span> Attention<br>seeking</p></div></div>
<div class="bx it" style="left:1430.6px;top:519.5px;width:141.2px;height:626.2px;padding-top:4px"><div><p class="h"><b>Traits</b></p><p>Problematic<br>impulsivity</p><p>Irresponsibility</p><p>Theft</p><p>Distractibility</p><p>Risk taking</p><p class="l"><span class="lo">(low)</span> Rigid<br>perfectionism</p><p class="l"><span class="lo">(low)</span><br>Ruminative<br>deliberation</p><p class="l"><span class="lo">(low)</span><br>Workaholism</p></div></div>
<div class="bx it" style="left:1564.4px;top:519.5px;width:141.2px;height:626.2px;padding-top:4px"><div><p class="h"><b>Components</b></p><p>Alcohol use</p><p>Alcohol<br>problems</p><p>Marijuana use</p><p>Marijuana<br>problems</p><p>Drug use</p><p>Drug problems</p></div></div>
<div class="bx it" style="left:1698.2px;top:519.5px;width:141.2px;height:626.2px;padding-top:4px"><div><p class="h"><b>Components</b></p><p>Physical<br>aggression</p><p>Destructive<br>aggression</p><p>Relational<br>aggression</p><p>Fraud</p><p>&nbsp;</p><p class="h"><b>Traits</b></p><p>Impatient<br>urgency</p><p class="l"><span class="lo">(low)</span> Planful<br>control</p><p class="l"><span class="lo">(low)</span><br>Dependability</p><p>Alienation</p><p>Boredom<br>proneness</p><p>Blame<br>externalization</p><p class="l"><span class="lo">(low)</span> Honesty</p><p>Rebelliousness</p><p class="l"><span class="lo">(low)</span> Empathy</p><p>Excitement<br>seeking</p></div></div>
<div class="bx it" style="left:1832.0px;top:519.5px;width:141.2px;height:626.2px;padding-top:4px"><div><p class="h"><b>Traits</b></p><p>Attention<br>seeking</p><p>Callousness</p><p>Deceitfulness</p><p>Grandiosity</p><p>Manipulative-<br>ness</p><p>Rudeness</p><p>Egocentricity</p><p>Dominance</p><p>Flirtatiousness</p><p class="l"><span class="lo">(low)</span><br>Timorousness</p></div></div>
<div class="bx it ds" style="left:226.6px;top:1261.8px;width:141.2px;height:194.8px;padding-top:4px"><div><p>Illness Anxiety<br>Disorder</p><p>Somatic<br>Symptom<br>Disorder</p></div></div>
<div class="bx it ds" style="left:494.2px;top:1261.8px;width:141.2px;height:194.8px;padding-top:4px"><div><p>Arousal<br>Difficulties</p><p>Low Desire</p><p>Orgasmic<br>Dysfunction</p><p>Sexual Pain</p></div></div>
<div class="bx it ds" style="left:627.9px;top:1261.8px;width:141.2px;height:194.8px;padding-top:4px"><div><p>Anorexia<br>Nervosa</p><p>Binge Eating<br>Disorder</p><p>Bulimia<br>Nervosa</p></div></div>
<div class="bx it ds" style="left:761.7px;top:1261.8px;width:141.2px;height:194.8px;padding-top:4px"><div><p>Agoraphobia</p><p>OCD</p><p>Panic Disorder</p><p>SAD</p><p>Social Phobia</p><p>Specific Phobia</p></div></div>
<div class="bx it ds" style="left:895.5px;top:1261.8px;width:141.2px;height:194.8px;padding-top:4px"><div><p>Borderline PD</p><p>Dysthymia</p><p>GAD</p><p>MDD</p><p>PTSD</p></div></div>
<div class="bx it ds" style="left:1029.3px;top:1261.8px;width:141.2px;height:194.8px;padding-top:4px"><div><p>Bipolar I &amp; II</p></div></div>
<div class="bx it ds" style="left:1163.1px;top:1261.8px;width:141.2px;height:194.8px;padding-top:4px"><div><p>Mood<br>Disorders with<br>Psychosis</p><p>Paranoid PD</p><p>Schizophrenia<br>Spectrum</p><p>Schizoid PD</p><p>Schizotypal PD</p></div></div>
<div class="bx it ds" style="left:1296.8px;top:1261.8px;width:141.2px;height:194.8px;padding-top:4px"><div><p>Avoidant PD</p><p class="l"><span class="lo">(low)</span> Histrionic<br>PD</p><p>Schizoid PD</p></div></div>
<div class="bx it ds" style="left:1564.4px;top:1261.8px;width:141.2px;height:194.8px;padding-top:4px"><div><p>Substance-<br>Related<br>Disorders</p></div></div>
<div class="bx it ds" style="left:1698.2px;top:1261.8px;width:141.2px;height:194.8px;padding-top:4px"><div><p>Antisocial PD</p><p>Conduct<br>Disorder</p><p>IED</p><p>ODD</p><p>ADHD</p></div></div>
<div class="bx it ds" style="left:1832.0px;top:1261.8px;width:141.2px;height:194.8px;padding-top:4px"><div><p>Borderline PD</p><p>Histrionic PD</p><p>Narcissistic PD</p><p>Paranoid PD</p></div></div>
<div class="lb" style="left:13px;top:48.1px;">Superspectra</div>
<div class="lb" style="left:13px;top:246.0px;">Spectra</div>
<div class="lb" style="left:13.5px;top:337.6px;">Subfactors</div>
<div class="lb" style="left:13px;top:432.6px;">Syndromes</div>
<div class="lb" style="left:15px;top:529.9px;">Homogeneous<br>Symptom<br>Components /<br>Maladaptive Traits</div>
<div class="lb" style="left:15px;top:1192.8px;">Symptoms</div>
<div class="lb" style="left:14px;top:1277.8px;">Disorders and<br>Related Constructs<br>Linked to Subfactors<br>and Spectra</div>
<div class="cap" style="left:37px;top:1495.5px"><p><b><i>Official HiTOP Figure.</i></b> This figure depicts the full current official HiTOP framework. Dashed lines indicate dimensions included as provisional aspects of the framework.</p><p style="margin-top:11.3px">Abbreviations: ADHD, attention-deficit/hyperactivity disorder; GAD, generalized anxiety disorder; IED, intermittent explosive disorder; MDD, major depressive disorder; OCD, obsessive–<br>compulsive disorder; ODD, oppositional defiant disorder; PD, personality disorder; PTSD, posttraumatic stress disorder; SAD, separation anxiety disorder.</p></div>
</body></html>
